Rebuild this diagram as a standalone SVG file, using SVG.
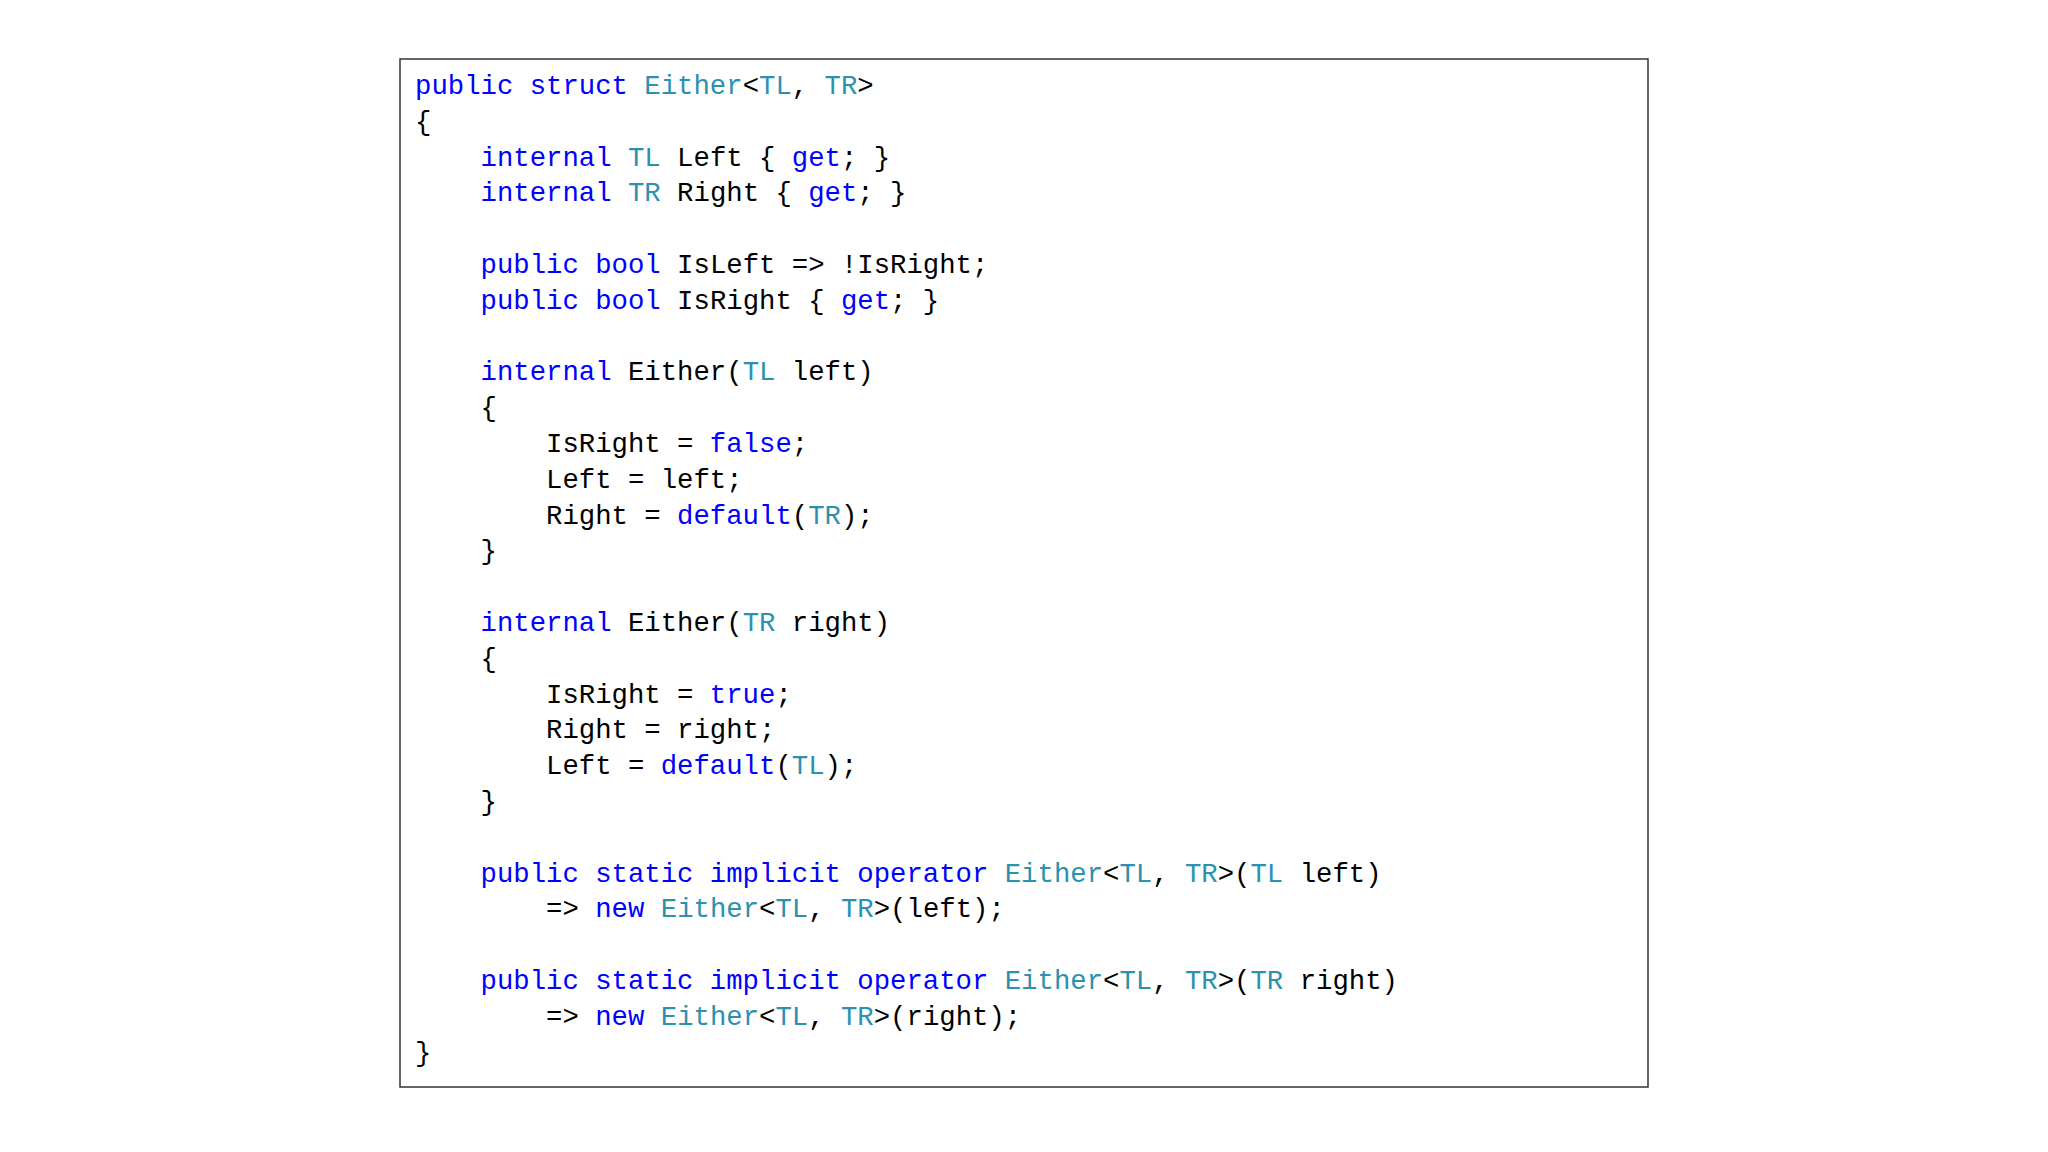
<svg xmlns="http://www.w3.org/2000/svg" width="2048" height="1152" viewBox="0 0 2048 1152">
<style>
text{font-family:"Liberation Mono","DejaVu Sans Mono",monospace;font-size:27.3px;fill:#000;white-space:pre}
.k{fill:#0000FF}.t{fill:#2B91AF}
</style>
<rect width="2048" height="1152" fill="#fff"/>
<g id="code">
<rect x="400" y="59" width="1248" height="1028" fill="#fff" stroke="#333" stroke-width="1.5"/>
<text xml:space="preserve" x="415" y="94"><tspan class="k">public struct</tspan> <tspan class="t">Either</tspan>&lt;<tspan class="t">TL</tspan>, <tspan class="t">TR</tspan>&gt;</text>
<text xml:space="preserve" x="415" y="129.8">{</text>
<text xml:space="preserve" x="415" y="165.6">    <tspan class="k">internal</tspan> <tspan class="t">TL</tspan> Left { <tspan class="k">get</tspan>; }</text>
<text xml:space="preserve" x="415" y="201.4">    <tspan class="k">internal</tspan> <tspan class="t">TR</tspan> Right { <tspan class="k">get</tspan>; }</text>
<text xml:space="preserve" x="415" y="273">    <tspan class="k">public bool</tspan> IsLeft =&gt; !IsRight;</text>
<text xml:space="preserve" x="415" y="308.8">    <tspan class="k">public bool</tspan> IsRight { <tspan class="k">get</tspan>; }</text>
<text xml:space="preserve" x="415" y="380.4">    <tspan class="k">internal</tspan> Either(<tspan class="t">TL</tspan> left)</text>
<text xml:space="preserve" x="415" y="416.2">    {</text>
<text xml:space="preserve" x="415" y="452">        IsRight = <tspan class="k">false</tspan>;</text>
<text xml:space="preserve" x="415" y="487.8">        Left = left;</text>
<text xml:space="preserve" x="415" y="523.6">        Right = <tspan class="k">default</tspan>(<tspan class="t">TR</tspan>);</text>
<text xml:space="preserve" x="415" y="559.4">    }</text>
<text xml:space="preserve" x="415" y="631">    <tspan class="k">internal</tspan> Either(<tspan class="t">TR</tspan> right)</text>
<text xml:space="preserve" x="415" y="666.8">    {</text>
<text xml:space="preserve" x="415" y="702.6">        IsRight = <tspan class="k">true</tspan>;</text>
<text xml:space="preserve" x="415" y="738.4">        Right = right;</text>
<text xml:space="preserve" x="415" y="774.2">        Left = <tspan class="k">default</tspan>(<tspan class="t">TL</tspan>);</text>
<text xml:space="preserve" x="415" y="810">    }</text>
<text xml:space="preserve" x="415" y="881.6">    <tspan class="k">public static implicit operator</tspan> <tspan class="t">Either</tspan>&lt;<tspan class="t">TL</tspan>, <tspan class="t">TR</tspan>&gt;(<tspan class="t">TL</tspan> left)</text>
<text xml:space="preserve" x="415" y="917.4">        =&gt; <tspan class="k">new</tspan> <tspan class="t">Either</tspan>&lt;<tspan class="t">TL</tspan>, <tspan class="t">TR</tspan>&gt;(left);</text>
<text xml:space="preserve" x="415" y="989">    <tspan class="k">public static implicit operator</tspan> <tspan class="t">Either</tspan>&lt;<tspan class="t">TL</tspan>, <tspan class="t">TR</tspan>&gt;(<tspan class="t">TR</tspan> right)</text>
<text xml:space="preserve" x="415" y="1024.8">        =&gt; <tspan class="k">new</tspan> <tspan class="t">Either</tspan>&lt;<tspan class="t">TL</tspan>, <tspan class="t">TR</tspan>&gt;(right);</text>
<text xml:space="preserve" x="415" y="1060.6">}</text>
</g>
<g id="connectors"/>
</svg>
